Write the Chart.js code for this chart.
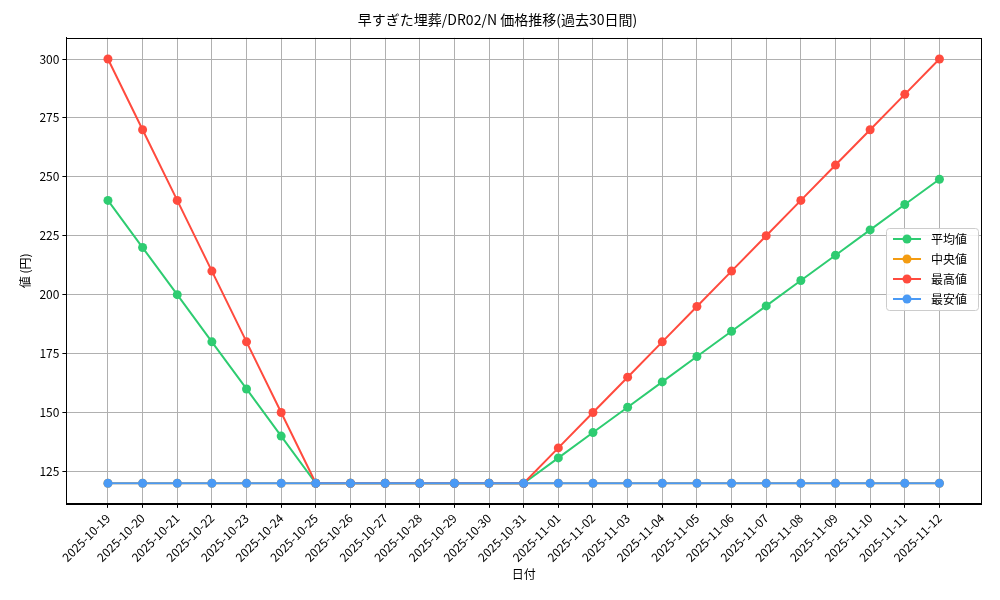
<!DOCTYPE html>
<html><head><meta charset="utf-8">
<script src="https://cdn.jsdelivr.net/npm/chart.js@4/dist/chart.umd.min.js"></script>
<style>body{margin:0;background:#fff}#wrap{width:1000px;height:600px}</style>
</head><body><div id="wrap"><canvas id="c"></canvas></div>
<script>
const dates = ['2025-10-19','2025-10-20','2025-10-21','2025-10-22','2025-10-23','2025-10-24','2025-10-25','2025-10-26','2025-10-27','2025-10-28','2025-10-29','2025-10-30','2025-10-31','2025-11-01','2025-11-02','2025-11-03','2025-11-04','2025-11-05','2025-11-06','2025-11-07','2025-11-08','2025-11-09','2025-11-10','2025-11-11','2025-11-12'];
const avgVals = [240,220,200,180,160,140,120,120,120,120,120,120,120,130.75,141.5,152.25,163,173.75,184.5,195.25,206,216.75,227.5,238.25,249];
const medVals = [120,120,120,120,120,120,120,120,120,120,120,120,120,120,120,120,120,120,120,120,120,120,120,120,120];
const maxVals = [300,270,240,210,180,150,120,120,120,120,120,120,120,135,150,165,180,195,210,225,240,255,270,285,300];
const minVals = [120,120,120,120,120,120,120,120,120,120,120,120,120,120,120,120,120,120,120,120,120,120,120,120,120];
const yTicks = [125,150,175,200,225,250,275,300];
const FONT = '"Noto Sans CJK JP", sans-serif';

const series = [
  {label:'平均値', data:avgVals, color:'#2ecc71'},
  {label:'中央値', data:medVals, color:'#f39c12'},
  {label:'最高値', data:maxVals, color:'#ff4b3e'},
  {label:'最安値', data:minVals, color:'#4a9af5'}
];

const legendPlugin = {
  id:'legendBox',
  afterDraw(chart){
    const ctx = chart.ctx, a = chart.chartArea;
    ctx.save();
    ctx.strokeStyle = '#000'; ctx.lineWidth = 1;
    ctx.strokeRect(Math.round(a.left)+0.5, Math.round(a.top)+0.5, Math.round(a.right-a.left), Math.round(a.bottom-a.top));
    const x = 886, y = 228, w = 92, h = 82;
    ctx.fillStyle = 'rgba(255,255,255,0.85)';
    ctx.strokeStyle = '#ccc';
    ctx.beginPath(); ctx.roundRect(x+0.5, y+0.5, w, h, 3); ctx.fill(); ctx.stroke();
    ctx.font = '12px ' + FONT; ctx.textBaseline = 'middle';
    series.forEach((s,i)=>{
      const yy = y + 11 + i*20;
      ctx.strokeStyle = s.color; ctx.lineWidth = 2;
      ctx.beginPath(); ctx.moveTo(x+7, yy); ctx.lineTo(x+35, yy); ctx.stroke();
      ctx.fillStyle = s.color; ctx.beginPath(); ctx.arc(x+21, yy, 4.5, 0, Math.PI*2); ctx.fill();
      ctx.fillStyle = '#000'; ctx.fillText(s.label, x+45, yy);
    });
    ctx.restore();
  }
};

const order = [2,3,1,0];
new Chart(document.getElementById('c'), {
  type:'line',
  data:{datasets: series.map((s,i)=>({
    label:s.label, data:s.data.map((v,j)=>({x:j,y:v})),
    borderColor:s.color, backgroundColor:s.color, borderWidth:2,
    pointRadius:4.5, pointHoverRadius:4.5, pointBorderWidth:0, order:order[i]
  }))},
  plugins:[legendPlugin],
  options:{
    responsive:true, maintainAspectRatio:false, animation:false,
    layout:{padding:{left:14,right:19,top:7,bottom:14}},
    plugins:{legend:{display:false}, tooltip:{enabled:false},
      title:{display:true, text:'早すぎた埋葬/DR02/N 価格推移(過去30日間)', color:'#000', font:{family:FONT,size:14,weight:'normal'}, padding:{top:4,bottom:10}}},
    scales:{
      x:{type:'linear', min:-1.2, max:25.2,
        afterBuildTicks(a){a.ticks = dates.map((d,i)=>({value:i}));},
        ticks:{autoSkip:false, maxRotation:45, minRotation:45, color:'#000', font:{family:FONT,size:12}, callback:v=>dates[v]},
        grid:{color:'#b0b0b0', drawTicks:true, tickLength:4, tickColor:'#000'},
        border:{color:'#000'},
        title:{display:true, text:'日付', color:'#000', font:{family:FONT,size:12}, padding:{top:0}}},
      y:{min:111.25, max:309,
        afterBuildTicks(a){a.ticks = yTicks.map(v=>({value:v}));},
        ticks:{color:'#000', font:{family:FONT,size:12}},
        grid:{color:'#b0b0b0', tickLength:4, tickColor:'#000'},
        border:{color:'#000'},
        title:{display:true, text:'値 (円)', color:'#000', font:{family:FONT,size:12}}}
    }
  }
});
</script></body></html>
